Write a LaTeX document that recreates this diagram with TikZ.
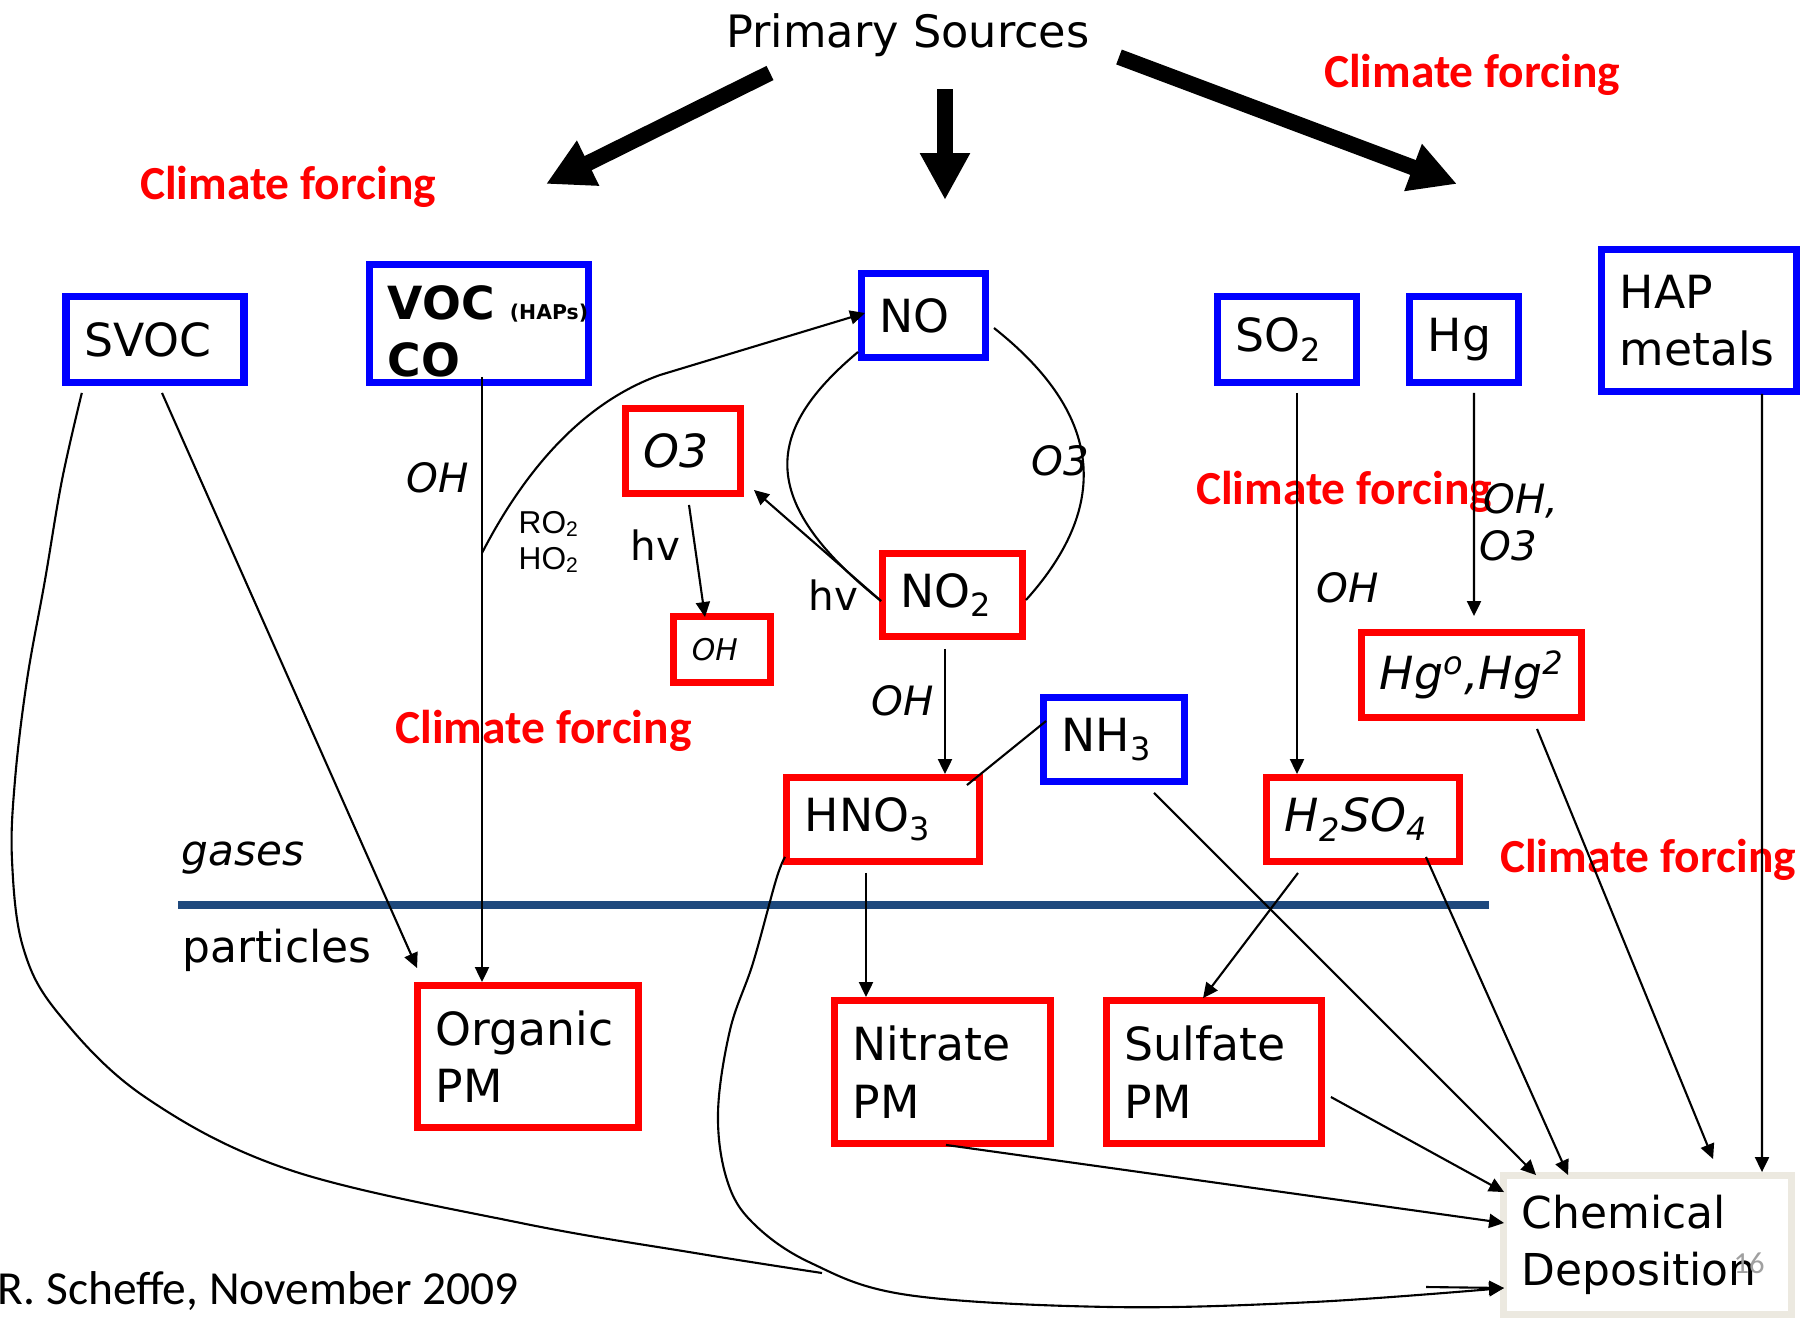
\documentclass[tikz,border=0pt]{standalone}
\usepackage{fontspec}
\usepackage{xcolor}
\usepackage{tikz}
\usetikzlibrary{arrows.meta}
\newfontfamily\comic{DejaVu Sans}[ItalicFont={DejaVu Sans Oblique},BoldFont={DejaVu Sans Bold},BoldItalicFont={DejaVu Sans Bold Oblique}]
\newfontfamily\calibri{Carlito}
\newfontfamily\arial{Liberation Sans}
\definecolor{srcblue}{RGB}{0,0,255}
\definecolor{prodred}{RGB}{255,0,0}
\definecolor{phaseline}{RGB}{31,73,125}
\definecolor{depborder}{RGB}{236,233,224}
\definecolor{pagenum}{RGB}{160,160,160}
\newcommand{\boxfont}{\comic\fontsize{13}{16.3}\selectfont}
\newcommand{\depfont}{\comic\fontsize{12.5}{16.3}\selectfont}
\newcommand{\smallfont}{\comic\fontsize{8.5}{10}\selectfont}
\newcommand{\lblfont}{\comic\fontsize{11.5}{14}\selectfont}
\newcommand{\titlefont}{\comic\fontsize{12.7}{15}\selectfont}
\newcommand{\forcingfont}{\calibri\bfseries\fontsize{13.5}{16}\selectfont}
\tikzset{
	box/.style={rectangle, draw, line width=2.1pt, inner sep=0pt, align=left, font=\boxfont},
	bluebox/.style={box, draw=srcblue},
	redbox/.style={box, draw=prodred},
	sz/.style n args={3}{minimum width=#1cm, minimum height=#2cm, text width=#3cm}
}
\tikzset{
	arr/.style={-{Triangle[length=1.5mm,width=1.4mm]}, line width=0.6pt},
	bigarr/.style={-{Triangle[length=4.7mm,width=4.7mm]}, line width=4.5pt},
	forcing/.style={font=\forcingfont, text=prodred, anchor=base, inner sep=0pt},
	lbl/.style={font=\lblfont, anchor=base west, inner sep=0pt}
}
\begin{document}
\begin{tikzpicture}
		\useasboundingbox (0,0) rectangle (18.16,-13.19);
		
		\node[font=\titlefont, anchor=base, inner sep=0pt] at (9.08,-0.47) (src) {Primary Sources};
		
		%Gases
		\node[bluebox, sz={1.78}{0.855}{1.42}] at (1.55,-3.395) (SVOC) {SVOC};
		\node[bluebox, sz={2.185}{1.175}{1.825}] at (4.79,-3.235) (VOC) {\rule{0pt}{0.5cm}\mbox{\textbf{VOC} {\bfseries\fontsize{5.8}{7}\selectfont (HAPs)}}\\\textbf{CO}};
		\node[bluebox, sz={1.235}{0.835}{0.875}] at (9.235,-3.155) (NO) {NO};
		\node[redbox, sz={1.145}{0.845}{0.785}] at (6.83,-4.51) (O3) {\itshape O3};
		\node[redbox, sz={0.965}{0.655}{0.605}, font=\smallfont] at (7.22,-6.495) (OHs) {\itshape OH};
		\node[redbox, sz={1.395}{0.825}{1.035}] at (9.525,-5.95) (NO2) {NO\textsubscript{2}};
		\node[bluebox, sz={1.405}{0.835}{1.045}] at (11.14,-7.395) (NH3) {NH\textsubscript{3}};
		\node[redbox, sz={1.925}{0.835}{1.565}] at (8.83,-8.195) (HNO3) {HNO\textsubscript{3}};
		\node[bluebox, sz={1.385}{0.855}{1.025}] at (12.87,-3.395) (SO2) {SO\textsubscript{2}};
		\node[bluebox, sz={1.085}{0.855}{0.725}] at (14.64,-3.395) (Hg) {Hg};
		\node[bluebox, sz={1.945}{1.415}{1.585}] at (16.99,-3.205) (HAP) {HAP\\metals};
		\node[redbox, sz={2.195}{0.845}{1.835}] at (14.715,-6.75) (Hgox) {\itshape Hg\textsuperscript{o},Hg\textsuperscript{2}};
		\node[redbox, sz={1.925}{0.835}{1.565}] at (13.63,-8.195) (H2SO4) {\itshape H\textsubscript{2}SO\textsubscript{4}};
		
		%Particles
		\node[redbox, sz={2.205}{1.415}{1.845}] at (5.28,-10.565) (org) {Organic\\PM};
		\node[redbox, sz={2.155}{1.425}{1.795}] at (9.425,-10.72) (nit) {Nitrate\\PM};
		\node[redbox, sz={2.145}{1.425}{1.785}] at (12.14,-10.72) (sul) {Sulfate\\PM};
		\node[box, draw=depborder, sz={2.875}{1.385}{2.515}, font=\depfont] at (16.475,-12.45) (dep) {Chemical\\Deposition};
		
		%Climate forcing
		\node[forcing] at (2.88,-1.99) (cf1) {Climate forcing};
		\node[forcing] at (14.72,-0.87) (cf2) {Climate forcing};
		\node[forcing] at (13.44,-5.04) (cf3) {Climate forcing};
		\node[forcing] at (5.435,-7.43) (cf4) {Climate forcing};
		\node[forcing] at (16.48,-8.72) (cf5) {Climate forcing};
		
		%Labels
		\node[lbl] at (4.06,-4.92) (l1) {\itshape OH};
		\node[lbl, font=\arial\fontsize{9}{11}\selectfont] at (5.18,-5.33) (l2) {RO\textsubscript{2}};
		\node[lbl, font=\arial\fontsize{9}{11}\selectfont] at (5.18,-5.69) (l3) {HO\textsubscript{2}};
		\node[lbl] at (6.30,-5.60) (l4) {hv};
		\node[lbl] at (8.08,-6.10) (l5) {hv};
		\node[lbl] at (10.31,-4.75) (l6) {\itshape O3};
		\node[lbl] at (8.71,-7.15) (l7) {\itshape OH};
		\node[lbl] at (13.16,-6.02) (l8) {\itshape OH};
		\node[lbl] at (14.83,-5.13) (l9) {\itshape OH,};
		\node[lbl] at (14.79,-5.60) (l10) {\itshape O3};
		\node[lbl, font=\comic\fontsize{12}{14}\selectfont] at (1.81,-8.65) (gas) {\itshape gases};
		\node[lbl, font=\comic\fontsize{12.5}{14}\selectfont] at (1.82,-9.62) (part) {particles};
		\node[lbl, font=\calibri\fontsize{13.5}{16}\selectfont] at (-0.03,-13.04) (auth) {R. Scheffe, November 2009};
		\node[lbl, font=\calibri\fontsize{8.7}{10}\selectfont, text=pagenum] at (17.33,-12.73) (pg) {16};
		
		%gas / particle line
		\draw[phaseline, line width=2.3pt] (1.78,-9.05) -- (14.89,-9.05);
		
		%Lines
		\coordinate (a1) at (5.46,-1.84);
		\coordinate (a2) at (9.45,-2.00);
		\coordinate (a3) at (14.57,-1.84);
		\draw[bigarr] ([shift={(-1.38,-0.26)}]src.base) -- (a1);
		\draw[bigarr] ([shift={(0.37,-0.42)}]src.base) -- (a2);
		\draw[bigarr] ([shift={(2.11,-0.10)}]src.base) -- (a3);
		
		\draw[arr] ([shift={(0.07,-0.07)}]SVOC.south) -- ([shift={(0.03,0.14)}]org.north west);
		\coordinate (s1) at ([shift={(0.195,-0.07)}]SVOC.south west);
		\coordinate (m1) at (8.22,-12.73);
		\draw[line width=0.6pt] plot[smooth, tension=0.6] coordinates {(s1) (0.62,-4.80) (0.45,-5.80) (0.27,-6.80) (0.15,-7.80) (0.12,-8.60) (0.23,-9.47) (0.58,-10.13) (1.45,-10.97) (2.90,-11.70) (5.21,-12.23) (6.95,-12.53) (m1)};
		\coordinate (h1) at ([shift={(0.02,0.08)}]HNO3.south west);
		\coordinate (h2) at ([shift={(0.04,-0.43)}]dep.west);
		\draw[arr] plot[smooth, tension=0.6] coordinates {(h1) (7.76,-8.80) (7.53,-9.63) (7.30,-10.30) (7.18,-11.13) (7.27,-11.80) (7.53,-12.23) (8.11,-12.63) (9.08,-12.95) (11.11,-13.07) (13.13,-13.02) (h2)};
		\coordinate (j2) at (14.26,-12.87);
		\draw[arr] (j2) -- (h2);
		
		\draw[arr] ([shift={(0.03,0.09)}]VOC.south) -- ([xshift=0.03cm]VOC.south |- org.north);
		\coordinate (br) at (4.82,-5.53);
		\draw[arr] (br) .. controls (5.30,-4.60) and (5.90,-4.00) .. (6.60,-3.75) -- ([shift={(0.07,0.025)}]NO.west);
		
		\draw[arr] ([shift={(0.06,-0.08)}]O3.south) -- ([shift={(-0.17,-0.04)}]OHs.north);
		\draw[arr] ([shift={(0.02,-0.06)}]NO2.west) -- ([shift={(0.10,0.07)}]O3.south east);
		\draw[line width=0.6pt] ([yshift=0.09cm]NO.south west) .. controls (7.65,-4.30) and (7.55,-5.00) .. ([shift={(0.02,-0.06)}]NO2.west);
		\draw[line width=0.6pt] ([shift={(0.05,-0.125)}]NO.east) .. controls (10.85,-4.00) and (11.25,-4.90) .. ([yshift=-0.05cm]NO2.east);
		\draw[arr] ([shift={(-0.075,-0.09)}]NO2.south) -- ([xshift=-0.075cm]NO2.south |- HNO3.north);
		\draw[line width=0.6pt] ([shift={(0.06,0.185)}]NH3.west) -- ([shift={(-0.16,-0.11)}]HNO3.north east);
		\draw[arr] ([shift={(-0.17,-0.08)}]HNO3.south) -- ([xshift=-0.17cm]HNO3.south |- nit.north);
		\draw[arr] ([shift={(0.40,-0.08)}]NH3.south) -- ([shift={(0.36,-0.03)}]dep.north west);
		
		\draw[arr] ([shift={(0.10,-0.07)}]SO2.south) -- ([xshift=0.10cm]SO2.south |- H2SO4.north);
		\draw[arr] ([shift={(0.10,-0.07)}]Hg.south) -- ([shift={(0.025,0.13)}]Hgox.north);
		\draw[arr] ([shift={(0.63,0.01)}]HAP.south) -- ([xshift=0.63cm]HAP.south |- dep.north);
		\draw[arr] ([shift={(-0.65,-0.08)}]H2SO4.south) -- ([shift={(-0.11,-0.01)}]sul.north);
		\draw[arr] ([shift={(-0.37,0.08)}]H2SO4.south east) -- ([shift={(0.68,-0.03)}]dep.north west);
		\draw[arr] ([shift={(0.655,-0.08)}]Hgox.south) -- ([shift={(2.13,0.13)}]dep.north west);
		\draw[arr] ([shift={(0.06,-0.25)}]sul.east) -- ([shift={(0.04,-0.20)}]dep.north west);
		\draw[arr] ([shift={(0.035,0.02)}]nit.south) -- ([shift={(0.04,0.22)}]dep.west);
		
	\end{tikzpicture}
\end{document}
